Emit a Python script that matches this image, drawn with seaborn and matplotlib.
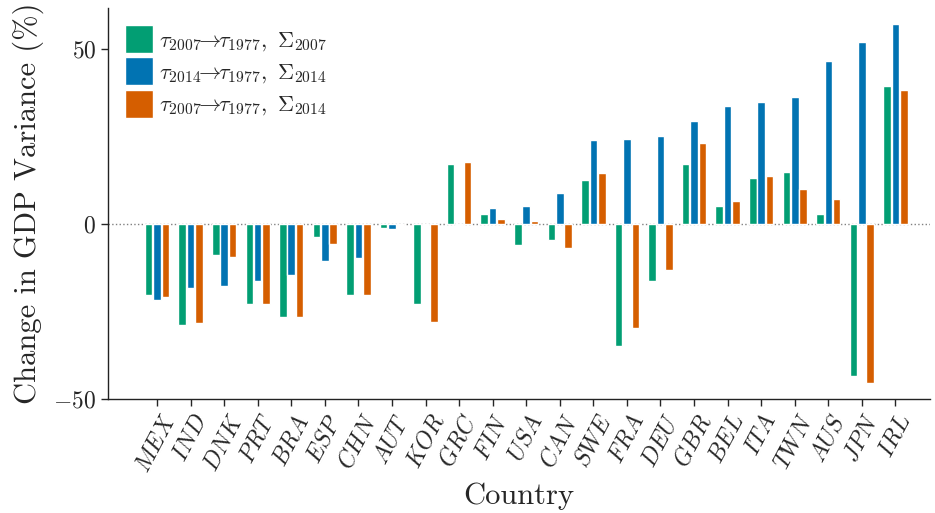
import numpy as np
import pandas as pd
import matplotlib
matplotlib.use("Agg")
import matplotlib.pyplot as plt
import seaborn as sns

countries = ["MEX", "IND", "DNK", "PRT", "BRA", "ESP", "CHN", "AUT", "KOR", "GRC", "FIN", "USA",
             "CAN", "SWE", "FRA", "DEU", "GBR", "BEL", "ITA", "TWN", "AUS", "JPN", "IRL"]
s2007 = [-20.4, -29.0, -8.9, -23.0, -26.7, -3.7, -20.4, -1.1, -23.0, 17.2, 2.9, -6.0,
         -4.6, 12.4, -34.8, -16.4, 17.0, 5.2, 13.2, 14.7, 2.9, -43.4, 39.4]
s2014 = [-21.8, -18.4, -17.8, -16.4, -14.7, -10.6, -9.8, -1.4, -0.3, -0.3, 4.6, 5.2,
         8.9, 23.9, 24.1, 25.0, 29.3, 33.6, 34.8, 36.2, 46.3, 52.0, 56.9]
s2007_14 = [-21.0, -28.2, -9.5, -23.0, -26.7, -5.7, -20.4, -0.3, -27.9, 17.5, 1.4, 0.9,
            -6.9, 14.4, -29.6, -13.2, 23.0, 6.6, 13.5, 9.8, 7.2, -45.4, 38.2]
series_labels = [r"$\tau_{2007}\!\!\rightarrow\!\!\tau_{1977},\ \Sigma_{2007}$",
                 r"$\tau_{2014}\!\!\rightarrow\!\!\tau_{1977},\ \Sigma_{2014}$",
                 r"$\tau_{2007}\!\!\rightarrow\!\!\tau_{1977},\ \Sigma_{2014}$"]
colors = ["#029E73", "#0173B2", "#D55E00"]

df = pd.DataFrame({
    "Country": countries * 3,
    "value": s2007 + s2014 + s2007_14,
    "series": [series_labels[0]] * len(countries) + [series_labels[1]] * len(countries)
              + [series_labels[2]] * len(countries),
})

sns.set_style("ticks")
plt.rcParams["font.family"] = "serif"
plt.rcParams["font.serif"] = ["cmr10"]
plt.rcParams["mathtext.fontset"] = "cm"
plt.rcParams["axes.formatter.use_mathtext"] = True
plt.rcParams["axes.unicode_minus"] = True

fig = plt.figure(figsize=(9.35, 5.13), dpi=100)
ax = fig.add_axes([0.1155, 0.222, 0.995 - 0.1155, 0.984 - 0.222])

sns.barplot(data=df, x="Country", y="value", hue="series", palette=colors,
            hue_order=series_labels, width=0.75, gap=0.1, ax=ax, saturation=1)

ax.axhline(0, color="gray", ls=":", lw=1, zorder=0)
ax.set_xlim(-1.46, 23.04)
ax.set_ylim(-50, 61.5)
ax.set_yticks([-50, 0, 50])
ax.set_xticks(range(len(countries)))
ax.set_xticklabels([f"${c}$" for c in countries], rotation=62, fontsize=17)
ax.tick_params(axis="y", labelsize=17, length=5, width=1)
ax.tick_params(axis="x", length=5, width=1)
ax.set_xlabel("Country", fontsize=22)
ax.set_ylabel("Change in GDP Variance (%)", fontsize=22, labelpad=7)
sns.despine(ax=ax)
for sp in ["left", "bottom"]:
    ax.spines[sp].set_linewidth(1)
    ax.spines[sp].set_color("#222222")

ax.legend(loc="upper left", frameon=False, fontsize=16, handlelength=1.26,
          handleheight=1.56, labelspacing=0.2, handletextpad=0.3,
          borderaxespad=0.45, borderpad=0.3)

fig.savefig("out.png", dpi=100)
